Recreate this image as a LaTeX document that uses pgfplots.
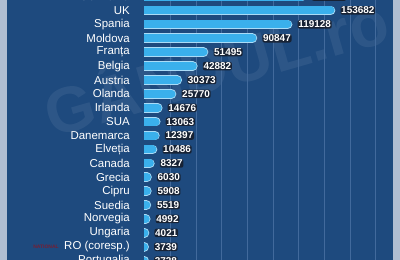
\documentclass[border=0pt]{standalone}
\usepackage{fontspec}
\setmainfont{Liberation Sans}
\usepackage{pgfplots}
\pgfplotsset{compat=1.18}
\definecolor{bg}{RGB}{30,74,126}
\definecolor{side}{RGB}{176,190,210}
\definecolor{gridc}{RGB}{66,106,156}
\definecolor{barfill}{RGB}{58,176,236}
\definecolor{barout}{RGB}{170,220,247}
\definecolor{lblbg}{RGB}{22,28,40}
\begin{document}
\begin{tikzpicture}
\useasboundingbox (0,0) rectangle (400bp,260bp);
\clip (0,0) rectangle (400bp,260bp);
\fill[side] (0,0) rectangle (400bp,260bp);
\fill[bg] (7bp,0) rectangle (393bp,260bp);
\node[rotate=16, text=white, opacity=0.07, font=\bfseries\fontsize{64}{64}\selectfont] at (215bp,198bp) {GÂNDUL.ro};
\node[text=red!70!black, opacity=0.6, font=\bfseries\fontsize{5}{6}\selectfont] at (46bp,13bp) {NATIONAL};
\begin{axis}[
  at={(144bp,-11.1bp)}, anchor=south west, scale only axis,
  width=249bp, height=284.95bp,
  xmin=3620, xmax=203942, ymin=-0.75, ymax=19.75,
  axis line style={draw=none},
  xtick={24900,45550,66200,86850,107500,128150,148800,169450,190100},
  xticklabels={},
  xmajorgrids, grid style={gridc, line width=0.8bp},
  major tick length=0pt,
  ytick={0,...,19},
  yticklabels={Portugalia,RO (coresp.),Ungaria,Norvegia,Suedia,Cipru,Grecia,Canada,Elveția,Danemarca,SUA,Irlanda,Olanda,Austria,Belgia,Franța,Moldova,Spania,UK,Germania},
  yticklabel style={font=\fontsize{11.5}{13}\selectfont, text=white, inner sep=0pt, xshift=-14bp},
  unbounded coords=jump,
  /pgf/number format/fixed,
  /pgf/number format/precision=0,
  /pgf/number format/1000 sep={},
  /pgf/number format/assume math mode=true,
]
\addplot[draw=barout, line width=9.6bp, line cap=round] coordinates {(0,19) (130500,19) (nan,nan)
 (0,18) (153682,18) (nan,nan)
 (0,17) (119128,17) (nan,nan)
 (0,16) (90847,16) (nan,nan)
 (0,15) (51495,15) (nan,nan)
 (0,14) (42882,14) (nan,nan)
 (0,13) (30373,13) (nan,nan)
 (0,12) (25770,12) (nan,nan)
 (0,11) (14676,11) (nan,nan)
 (0,10) (13063,10) (nan,nan)
 (0,9) (12397,9) (nan,nan)
 (0,8) (10486,8) (nan,nan)
 (0,7) (8327,7) (nan,nan)
 (0,6) (6030,6) (nan,nan)
 (0,5) (5908,5) (nan,nan)
 (0,4) (5519,4) (nan,nan)
 (0,3) (4992,3) (nan,nan)
 (0,2) (4021,2) (nan,nan)
 (0,1) (3739,1) (nan,nan)
 (0,0) (3728,0)};
\addplot[draw=barfill, line width=8bp, line cap=round] coordinates {(0,19) (130500,19) (nan,nan)
 (0,18) (153682,18) (nan,nan)
 (0,17) (119128,17) (nan,nan)
 (0,16) (90847,16) (nan,nan)
 (0,15) (51495,15) (nan,nan)
 (0,14) (42882,14) (nan,nan)
 (0,13) (30373,13) (nan,nan)
 (0,12) (25770,12) (nan,nan)
 (0,11) (14676,11) (nan,nan)
 (0,10) (13063,10) (nan,nan)
 (0,9) (12397,9) (nan,nan)
 (0,8) (10486,8) (nan,nan)
 (0,7) (8327,7) (nan,nan)
 (0,6) (6030,6) (nan,nan)
 (0,5) (5908,5) (nan,nan)
 (0,4) (5519,4) (nan,nan)
 (0,3) (4992,3) (nan,nan)
 (0,2) (4021,2) (nan,nan)
 (0,1) (3739,1) (nan,nan)
 (0,0) (3728,0)};
\addplot[draw=none, point meta=x,
  nodes near coords={\pgfmathprintnumber{\pgfplotspointmeta}},
  nodes near coords style={anchor=west, inner sep=0.7bp, fill=lblbg, fill opacity=0.85, text opacity=1, rounded corners=2bp, xshift=9.8bp, text=white, font=\bfseries\fontsize{10}{12}\selectfont}]
  coordinates {(130500,19) (153682,18) (119128,17) (90847,16) (51495,15) (42882,14) (30373,13) (25770,12) (14676,11) (13063,10) (12397,9) (10486,8) (8327,7) (6030,6) (5908,5) (5519,4) (4992,3) (4021,2) (3739,1) (3728,0)};
\end{axis}
\end{tikzpicture}
\end{document}
